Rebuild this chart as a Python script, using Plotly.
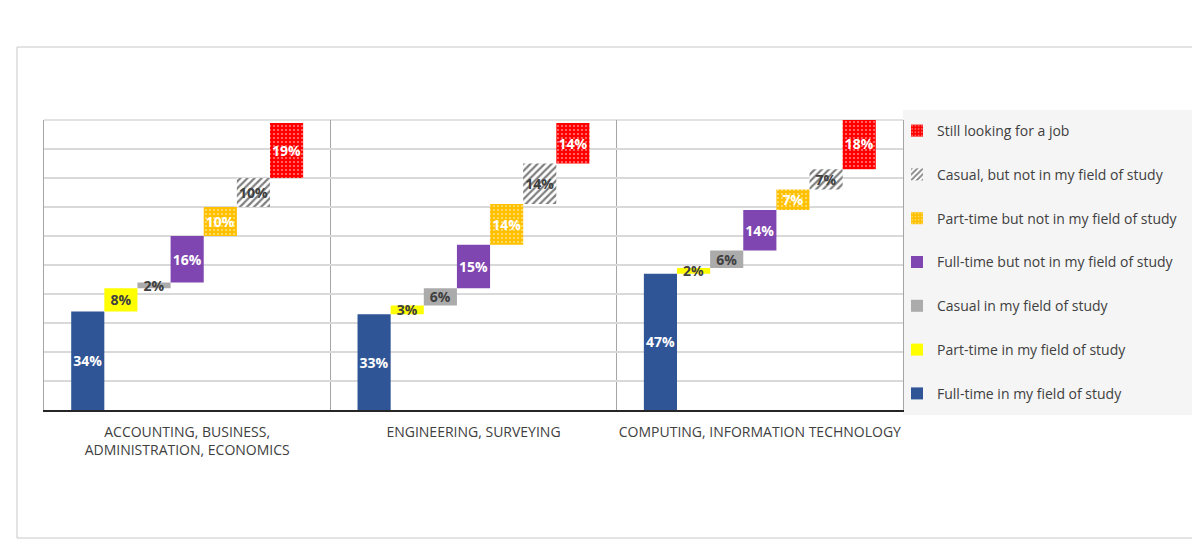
import numpy as np
import plotly.graph_objects as go

categories = ["ACCOUNTING, BUSINESS,<br>ADMINISTRATION, ECONOMICS",
              "ENGINEERING, SURVEYING",
              "COMPUTING, INFORMATION TECHNOLOGY"]
series_names = ["Full-time in my field of study",
                "Part-time in my field of study",
                "Casual in my field of study",
                "Full-time but not in my field of study",
                "Part-time but not in my field of study",
                "Casual, but not in my field of study",
                "Still looking for a job"]
# values[series][category] in percent
full_time_in_field = [34, 33, 47]
part_time_in_field = [8, 3, 2]
casual_in_field = [2, 6, 6]
full_time_not_field = [16, 15, 14]
part_time_not_field = [10, 14, 7]
casual_not_field = [10, 14, 7]
still_looking = [19, 14, 18]

values = [full_time_in_field, part_time_in_field, casual_in_field,
          full_time_not_field, part_time_not_field, casual_not_field, still_looking]

styles = [
    dict(color="#2F5597", pattern=None, txt="white"),
    dict(color="#FFFF00", pattern=None, txt="#404040"),
    dict(color="#ABABAB", pattern=None, txt="#404040"),
    dict(color="#7F45B0", pattern=None, txt="white"),
    dict(color="#FFC000", pattern=dict(shape=".", fgcolor="white", bgcolor="#FFC000", size=4, solidity=0.2, fillmode="overlay"), txt="white"),
    dict(color="white", pattern=dict(shape="/", fgcolor="#7F7F7F", bgcolor="white", size=5, solidity=0.45, fillmode="replace"), txt="#404040"),
    dict(color="#FF0000", pattern=dict(shape=".", fgcolor="white", bgcolor="#FF0000", size=4, solidity=0.2, fillmode="overlay"), txt="white"),
]

vals = np.array(values, dtype=float)
bases = np.vstack([np.zeros(vals.shape[1]), np.cumsum(vals, axis=0)[:-1]])

fig = go.Figure()
for i, name in enumerate(series_names):
    st = styles[i]
    marker = dict(color=st["color"], line=dict(width=0))
    if st["pattern"] is not None:
        marker["pattern"] = st["pattern"]
    fig.add_trace(go.Bar(
        name=name, x=categories, y=vals[i], base=bases[i],
        marker=marker,
        text=[f"{int(v)}%" for v in vals[i]],
        textposition="inside", insidetextanchor="middle", textangle=0,
        constraintext="none",
        textfont=dict(family="Open Sans", size=14, color=st["txt"], weight="bold"),
        legendgroup=f"g{i}", legendrank=100 - i,
        hoverinfo="skip",
    ))

# page is offset by the 8px body margin
OFF = 8
W, H = 1200 - OFF, 556 - OFF
PL, PR, PT, PB = 44, 903, 120, 410  # plot area in screenshot pixels
L, T = PL - OFF, PT - OFF
R = W - (PR - OFF)
B = H - (PB - OFF)
pw = PR - PL
ph = PB - PT

def px_x(p):
    return (p - PL) / pw

def px_y(p):
    return (PB - p) / ph

fig.update_layout(
    width=W, height=H,
    margin=dict(l=L, r=R, t=T, b=B, autoexpand=False),
    barmode="group", bargap=0.19, bargroupgap=0,
    paper_bgcolor="white", plot_bgcolor="white",
    showlegend=True,
    legend=dict(
        x=px_x(897), xanchor="left", y=px_y(115), yanchor="top",
        traceorder="grouped", tracegroupgap=22.6, maxheight=420,
        bgcolor="rgba(0,0,0,0)",
        font=dict(family="Open Sans", size=14, color="#404040"),
        itemwidth=30,
    ),
    xaxis=dict(
        type="category", tickson="boundaries", showgrid=True,
        gridcolor="#A6A6A6", gridwidth=1,
        ticks="", showline=True, linecolor="#262626", linewidth=2,
        tickfont=dict(family="Open Sans", size=14, color="#404040"),
        tickangle=0, automargin=False,
        ticklabelstandoff=8,
        fixedrange=True,
    ),
    yaxis=dict(
        range=[0, 100], dtick=10, showticklabels=False, ticks="",
        showgrid=True, gridcolor="#D9D9D9", gridwidth=1.5,
        showline=True, mirror=True, linecolor="#A6A6A6", linewidth=1,
        zeroline=False, fixedrange=True, automargin=False,
    ),
    shapes=[
        dict(type="rect", xref="paper", yref="paper",
             x0=px_x(903), x1=px_x(1210), y0=px_y(415), y1=px_y(110),
             fillcolor="#F5F5F5", line=dict(width=0), layer="below"),
        dict(type="rect", xref="paper", yref="paper",
             x0=px_x(17), x1=px_x(1215), y0=px_y(538), y1=px_y(47),
             fillcolor="rgba(0,0,0,0)", line=dict(color="#C8C8C8", width=1), layer="below"),
        dict(type="line", xref="paper", yref="paper", x0=0, x1=1, y0=1, y1=1,
             line=dict(color="#D9D9D9", width=1.5), layer="below"),
    ],
)

fig.write_html("out.html")
